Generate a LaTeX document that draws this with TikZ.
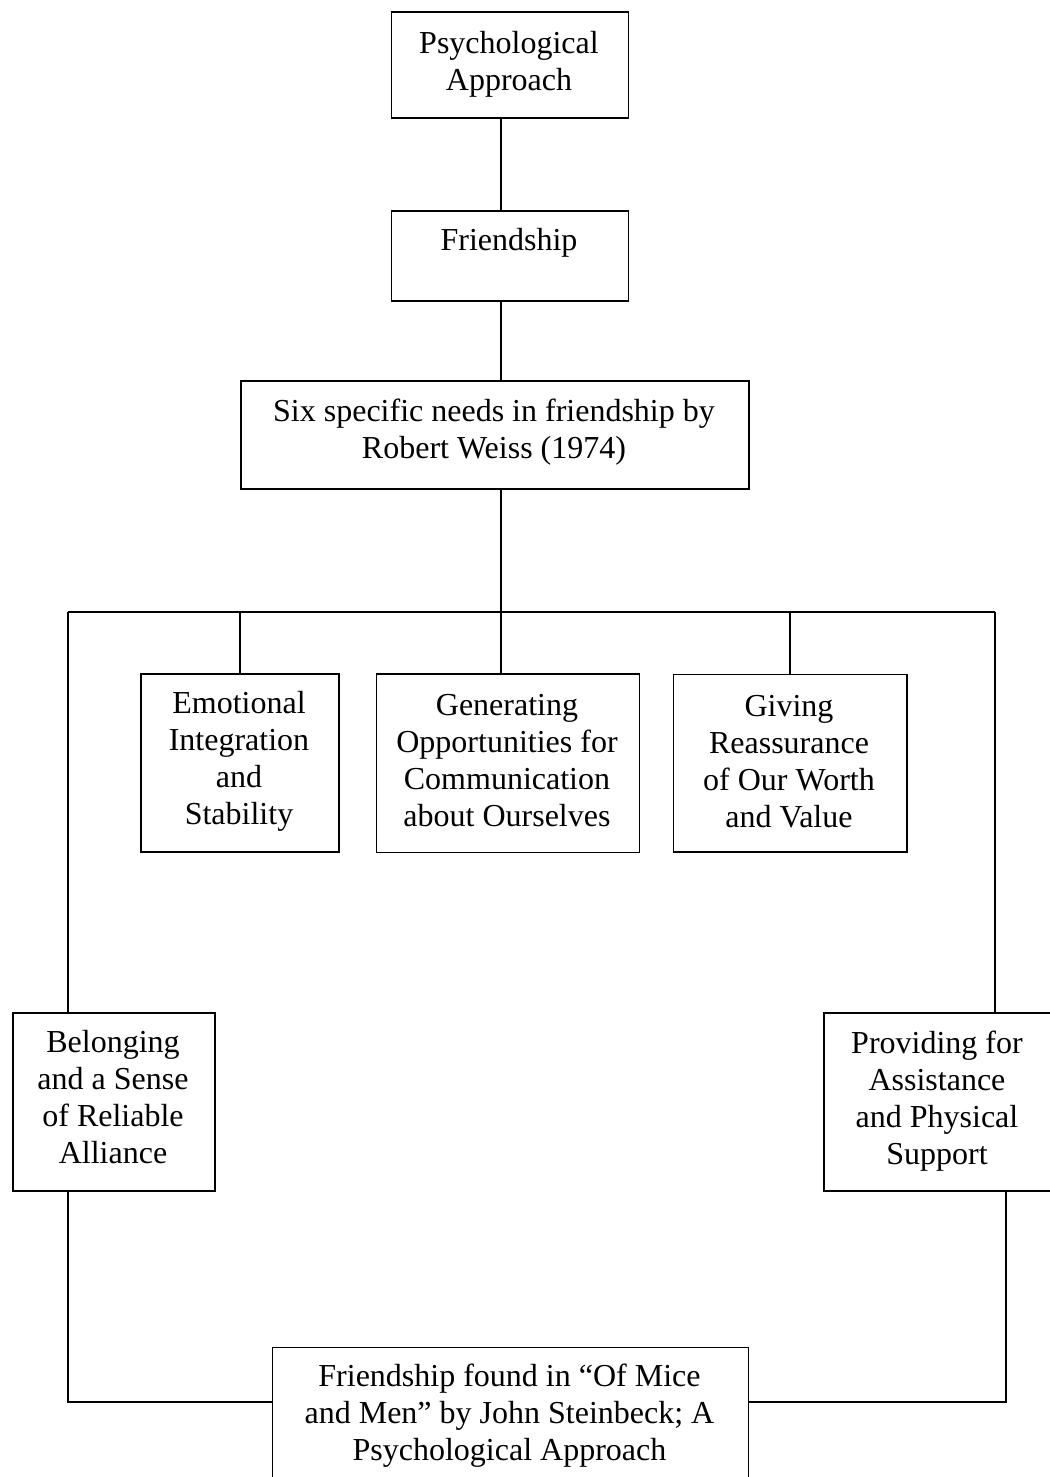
\documentclass[tikz,border=0pt]{standalone}
\usepackage{fontspec}
\setmainfont{Liberation Serif}
\begin{document}
\begin{tikzpicture}[x=1pt,y=-1pt,
  boxnode/.style={draw, line width=1.8pt, inner sep=0pt, anchor=north west},
  txt/.style={anchor=north, inner sep=0pt, align=center},
  conn/.style={line width=1.8pt},
  font=\fontsize{32}{37}\selectfont]
\useasboundingbox (0,0) rectangle (1049,1477);
% boxes
\node[boxnode, minimum width=237pt, minimum height=106pt] (psych) at (390.5,11.5) {};
\node[boxnode, minimum width=237pt, minimum height=90pt] (friend) at (390.5,210) {};
\node[boxnode, minimum width=508pt, minimum height=108pt] (six) at (240,380) {};
\node[boxnode, minimum width=198pt, minimum height=178pt] (emo) at (140,673) {};
\node[boxnode, minimum width=263pt, minimum height=178.5pt] (gen) at (375.5,673) {};
\node[boxnode, minimum width=233.5pt, minimum height=177.5pt] (giv) at (672.5,673.5) {};
\node[boxnode, minimum width=202pt, minimum height=178pt] (bel) at (12,1012) {};
\node[boxnode, minimum width=228pt, minimum height=178pt] (prov) at (823,1012) {};
\node[boxnode, minimum width=476pt, minimum height=150pt] (bot) at (271.5,1346.5) {};
% texts
\node[txt] (psych-t) at (509,27.4) {\strut Psychological\\Approach};
\node[txt] (friend-t) at (509,224.1) {\strut Friendship};
\node[txt] (six-t) at (494,395.1) {\strut Six specific needs in friendship by\\Robert Weiss (1974)};
\node[txt] (emo-t) at (239,687.8) {\strut Emotional\\Integration\\and\\Stability};
\node[txt] (gen-t) at (507,689.1) {\strut Generating\\Opportunities for\\Communication\\about Ourselves};
\node[txt] (giv-t) at (789,690.1) {\strut Giving\\Reassurance\\of Our Worth\\and Value};
\node[txt] (bel-t) at (113,1026.1) {\strut Belonging\\and a Sense\\of Reliable\\Alliance};
\node[txt] (prov-t) at (937,1027.1) {\strut Providing for\\Assistance\\and Physical\\Support};
\node[txt] (bot-t) at (509.5,1360.8) {\strut Friendship found in “Of Mice\\and Men” by John Steinbeck; A\\Psychological Approach};
% connector coordinates
\coordinate (spine) at (501,612);
\coordinate (busL) at (68.3,612);
\coordinate (busR) at (995,612);
\coordinate (bl) at (68.3,1402);
\coordinate (br) at (1006,1402);
% connectors
\draw[conn] (psych.south -| spine) -- (friend.north -| spine);
\draw[conn] (friend.south -| spine) -- (six.north -| spine);
\draw[conn] (six.south -| spine) -- (spine);
\draw[conn] (busL) -- (busR);
\draw[conn] (emo.north) -- (emo.north |- busL);
\draw[conn] (spine) -- (gen.north -| spine);
\draw[conn] (giv.north) -- (giv.north |- busL);
\draw[conn] (busL) -- (bel.north -| busL);
\draw[conn] (busR) -- (prov.north -| busR);
\draw[conn] (bel.south -| bl) -- (bl) -- (bot.west |- bl);
\draw[conn] (prov.south -| br) -- (br) -- (bot.east |- br);
\end{tikzpicture}
\end{document}
